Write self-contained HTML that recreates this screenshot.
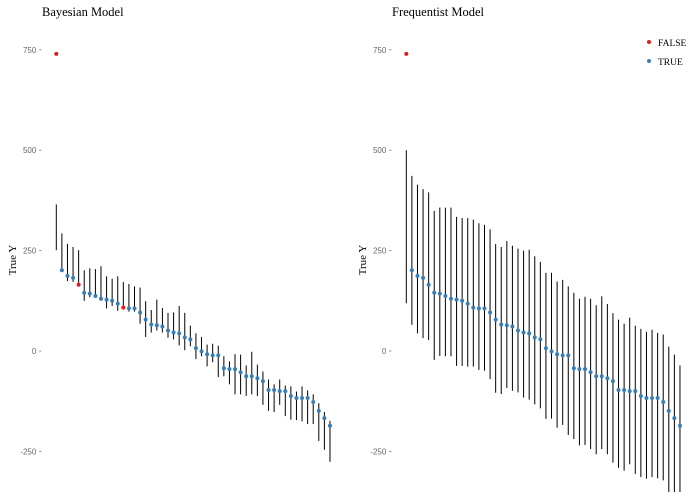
<!DOCTYPE html>
<html><head><meta charset="utf-8"><style>
html,body{margin:0;padding:0;background:#fff;}
svg{display:block;}
</style></head><body>
<svg id="chart" width="700" height="500" xmlns="http://www.w3.org/2000/svg">
<text x="42" y="16" font-family="Liberation Serif, serif" font-size="12.5" fill="#000">Bayesian Model</text>
<text x="392" y="16" font-family="Liberation Serif, serif" font-size="12.5" fill="#000">Frequentist Model</text>
<text transform="translate(16,260) rotate(-90)" text-anchor="middle" font-family="Liberation Serif, serif" font-size="11">True Y</text>
<text transform="translate(366,260) rotate(-90)" text-anchor="middle" font-family="Liberation Serif, serif" font-size="11">True Y</text>
<g>
<circle cx="649" cy="42" r="2" fill="#e41a1c"/>
<text x="658" y="46" font-family="Liberation Serif, serif" font-size="9.5">FALSE</text>
<circle cx="649" cy="61" r="2" fill="#377eb8"/>
<text x="658" y="65" font-family="Liberation Serif, serif" font-size="9.5">TRUE</text>
</g>
<g id="left"></g>
<g id="right"></g>
</svg>
<script>
const trueY = [740,201,187,182,165,145,143,137,130,128,125,118,108,106,106,96,78,66,64,61,51,46,44,34,29,7,-1,-8,-11,-11,-43,-45,-45,-53,-63,-63,-68,-75,-97,-97,-100,-100,-112,-117,-117,-117,-127,-149,-167,-186];
const covered = [false,true,true,true,false,true,true,true,true,true,true,true,false,true,true,true,true,true,true,true,true,true,true,true,true,true,true,true,true,true,true,true,true,true,true,true,true,true,true,true,true,true,true,true,true,true,true,true,true,true];
const bayesLo = [251,201,174,172,166,125,134,134,125,106,112,100,108,98,98,68,35,46,51,46,33,29,14,2,12,-20,-13,-38,-28,-65,-63,-83,-108,-108,-112,-108,-112,-134,-149,-152,-134,-162,-171,-172,-175,-182,-182,-224,-246,-276];
const bayesHi = [365,293,267,259,251,201,206,204,211,186,180,186,172,167,161,158,124,102,128,107,95,96,112,95,63,44,35,16,18,13,-13,-26,-8,-9,-36,-2,-34,-51,-71,-83,-71,-86,-88,-101,-88,-98,-108,-130,-152,-174];
const freqLo = [119,65,44,32,27,-22,-12,-13,-13,-37,-37,-39,-39,-47,-49,-70,-104,-107,-92,-99,-103,-116,-121,-133,-143,-169,-168,-191,-184,-209,-219,-235,-234,-244,-257,-244,-257,-278,-291,-298,-282,-306,-314,-318,-314,-317,-322,-351,-351,-351];
const freqHi = [500,436,414,403,395,349,357,357,357,334,331,331,327,318,314,303,266,259,274,262,255,250,252,236,222,195,195,173,177,161,145,130,135,130,114,136,117,94,78,68,83,63,55,48,53,45,41,11,-9,-36];
const yTicks = [-250,0,250,500,750];

const NS='http://www.w3.org/2000/svg';
const yScale = v => 351 - v*0.4016;
function mk(tag, attrs, parent){const e=document.createElementNS(NS,tag);for(const k in attrs)e.setAttribute(k,attrs[k]);parent.appendChild(e);return e;}

function panel(gid, x0, lo, hi){
  const g=document.getElementById(gid);
  const xScale = i => x0 + i*5.585;
  yTicks.forEach(t=>{
    const y=yScale(t);
    const tx=mk('text',{x:x0-20,y:y+3,'text-anchor':'end','font-family':'Liberation Sans, sans-serif','font-size':'8',fill:'#666'},g);
    tx.textContent=t;
    
    
    const tk=mk('line',{x1:x0-17,x2:x0-15,y1:y,y2:y,stroke:'#666','stroke-width':'0.8'},g);
    
    
  });
  trueY.forEach((v,i)=>{
    const x=xScale(i);
    const ln=mk('line',{x1:x,x2:x,y1:yScale(hi[i]),y2:yScale(lo[i]),stroke:'#000','stroke-width':'1'},g);
    
    
  });
  trueY.forEach((v,i)=>{
    const inside = v>=lo[i] && v<=hi[i];
    const c=mk('circle',{cx:xScale(i),cy:yScale(v),r:'2',fill:(gid==='left'?covered[i]:inside)?'#377eb8':'#e41a1c'},g);
    
    
  });
}
panel('left',56.3,bayesLo,bayesHi);
panel('right',406.3,freqLo,freqHi);
</script>
</body></html>
